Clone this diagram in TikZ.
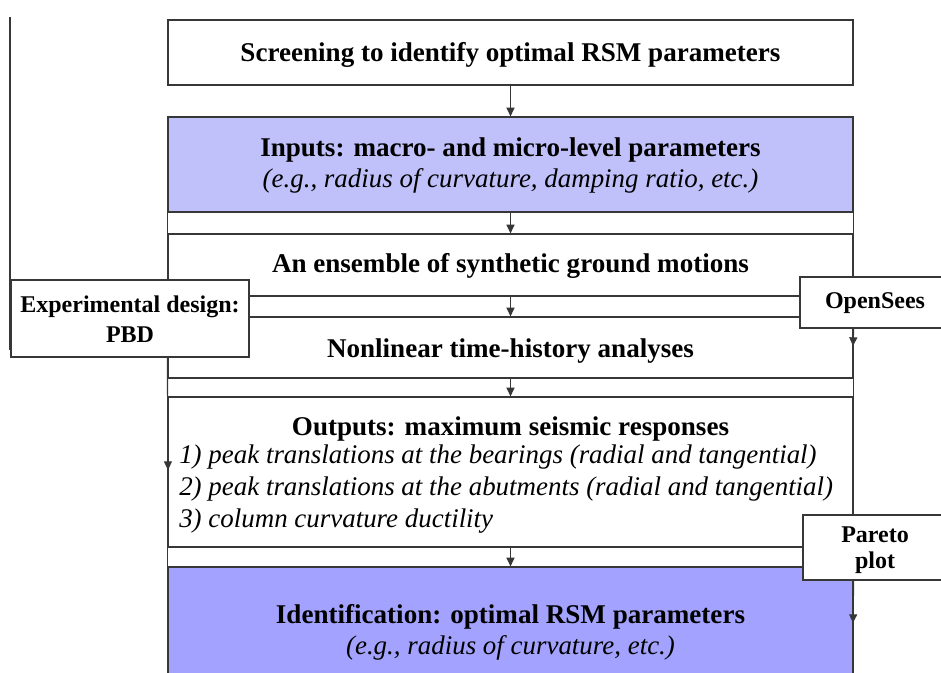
\documentclass[tikz,border=0pt]{standalone}
\usepackage{fontspec}
\setmainfont{Liberation Serif}
\usetikzlibrary{arrows.meta,fit}
\definecolor{lineclr}{RGB}{55,55,55}
\definecolor{inputfill}{RGB}{192,192,250}
\definecolor{idfill}{RGB}{163,163,255}

\begin{document}
\begin{tikzpicture}[x=0.75pt,y=-0.75pt,
  frame/.style={draw=lineclr, line width=0.9pt, inner sep=0pt},
  sidebox/.style={frame, fill=white},
  flow/.style={draw=lineclr, line width=0.9pt, -{Triangle[length=6.5pt,width=6pt]}},
  plain/.style={draw=lineclr, line width=0.9pt},
  head/.style={anchor=base, inner sep=0pt, font=\fontsize{20.3}{24}\selectfont\bfseries},
  sidehead/.style={anchor=base, inner sep=0pt, font=\fontsize{18}{21}\selectfont\bfseries},
  sub/.style={anchor=base, inner sep=0pt, font=\fontsize{20.2}{24}\selectfont\itshape},
  listitem/.style={anchor=base west, inner sep=0pt, font=\fontsize{20.2}{24}\selectfont\itshape},
]
\useasboundingbox (0,0) rectangle (941,673);
\clip (0,0) rectangle (941,673);

% main column of stages
\node[frame, fit={(168,20) (853,85)}] (screen) {};
\node[frame, fill=inputfill, fit={(168,117) (853,212)}] (inputs) {};
\node[frame, fit={(168,234) (853,296)}] (ensemble) {};
\node[frame, fit={(168,317) (853,378)}] (nonlin) {};
\node[frame, fit={(168,397) (853,547)}] (outputs) {};
\node[frame, fill=idfill, fit={(168,567) (853,700)}] (ident) {};

% side walls of the gaps between stacked stages
\foreach \a/\b in {inputs/ensemble, ensemble/nonlin, nonlin/outputs, outputs/ident}{
  \draw[plain] (\a.south west) -- (\b.north west);
  \draw[plain] (\a.south east) -- (\b.north east);
}

% stage texts
\node[head] (screen-t) at (510.5,62) {Screening to identify optimal RSM parameters};
\node[head] (inputs-t) at (510.5,157) {Inputs: macro- and micro-level parameters};
\node[sub] (inputs-s) at (510.5,188) {(e.g., radius of curvature, damping ratio, etc.)};
\node[head] (ensemble-t) at (510.5,273) {An ensemble of synthetic ground motions};
\node[head] (nonlin-t) at (510.5,357) {Nonlinear time-history analyses};
\node[head] (outputs-t) at (510.5,435) {Outputs: maximum seismic responses};
\node[listitem] (out-1) at (179,463) {1) peak translations at the bearings (radial and tangential)};
\node[listitem] (out-2) at (179,495) {2) peak translations at the abutments (radial and tangential)};
\node[listitem] (out-3) at (179,527) {3) column curvature ductility};
\node[head] (ident-t) at (510.5,623) {Identification: optimal RSM parameters};
\node[sub] (ident-s) at (510.5,654) {(e.g., radius of curvature, etc.)};

% flow between stages
\draw[flow] (screen.south) -- (inputs.north);
\draw[flow] (inputs.south) -- (ensemble.north);
\draw[flow] (ensemble.south) -- (nonlin.north);
\draw[flow] (nonlin.south) -- (outputs.north);
\draw[flow] (outputs.south) -- (ident.north);

% feedback line on the far left
\coordinate (loop-top) at (10,17);
\coordinate (loop-bot) at (10,350);
\draw[plain] (loop-top) -- (loop-bot);

% side boxes
\node[sidebox, fit={(11,280) (249,357)}] (design) {};
\node[sidehead] (design-t1) at (130,312) {Experimental design:};
\node[sidehead] (design-t2) at (130,342) {PBD};

\node[sidebox, fit={(800,277) (955,328)}] (opensees) {};
\node[sidehead] (opensees-t) at (875,309) {OpenSees};

\node[sidebox, fit={(803,515) (955,580)}] (pareto) {};
\node[sidehead] (pareto-t1) at (875,542) {Pareto};
\node[sidehead] (pareto-t2) at (875,568) {plot};

% side arrows
\coordinate (design-end) at (168,470);
\draw[flow] (design.south -| outputs.west) -- (design-end);
\coordinate (opensees-end) at (853,346);
\draw[flow] (opensees.south -| nonlin.east) -- (opensees-end);
\coordinate (pareto-end) at (853,623);
\draw[flow] (pareto.south -| ident.east) -- (pareto-end);
\end{tikzpicture}
\end{document}
